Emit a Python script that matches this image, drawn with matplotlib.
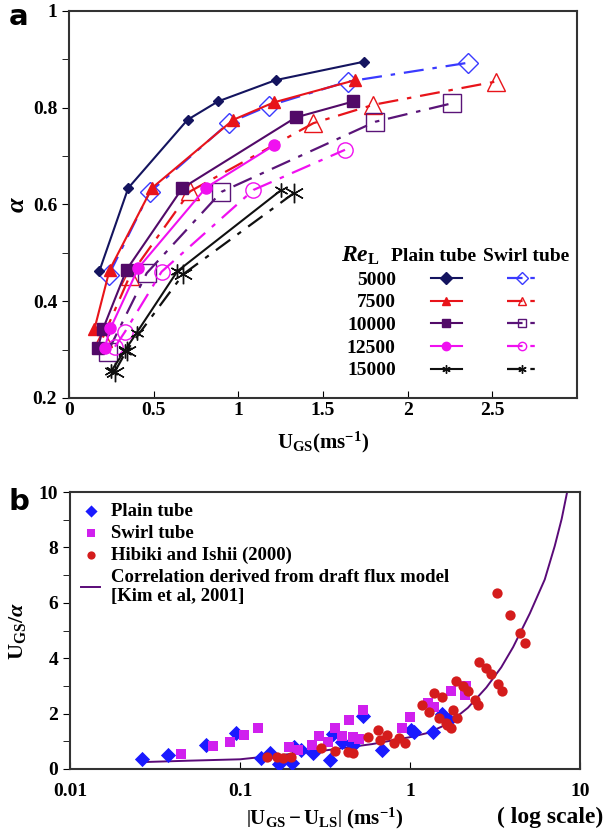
import matplotlib
matplotlib.use('Agg')
import matplotlib.pyplot as plt
from matplotlib.lines import Line2D

plt.rcParams['font.family'] = ['Liberation Serif', 'DejaVu Serif']
plt.rcParams['font.weight'] = 'bold'
plt.rcParams['mathtext.fontset'] = 'custom'
plt.rcParams['mathtext.rm'] = 'Liberation Serif:bold'
plt.rcParams['mathtext.it'] = 'Liberation Serif:italic:bold'
plt.rcParams['mathtext.bf'] = 'Liberation Serif:bold'

# ---- panel a : void fraction vs superficial gas velocity ----
re_labels = ['5000', '7500', '10000', '12500', '15000']

plain_x = [
    [0.18, 0.35, 0.70, 0.88, 1.22, 1.74],
    [0.15, 0.24, 0.49, 0.97, 1.21, 1.69],
    [0.17, 0.20, 0.34, 0.67, 1.34, 1.68],
    [0.21, 0.245, 0.41, 0.81, 1.21],
    [0.25, 0.33, 0.40, 0.64, 1.25],
]
plain_y = [
    [0.463, 0.634, 0.775, 0.813, 0.857, 0.895],
    [0.342, 0.465, 0.634, 0.775, 0.811, 0.857],
    [0.303, 0.342, 0.465, 0.634, 0.780, 0.813],
    [0.303, 0.344, 0.469, 0.635, 0.722],
    [0.256, 0.298, 0.335, 0.462, 0.629],
]
swirl_x = [
    [0.236, 0.476, 0.945, 1.18, 1.646, 2.358],
    [0.20, 0.36, 0.715, 1.443, 1.797, 2.52],
    [0.23, 0.459, 0.90, 1.809, 2.26],
    [0.272, 0.331, 0.547, 1.089, 1.63],
    [0.27, 0.34, 0.675, 1.33],
]
swirl_y = [
    [0.455, 0.625, 0.769, 0.804, 0.854, 0.893],
    [0.325, 0.453, 0.627, 0.768, 0.806, 0.854],
    [0.296, 0.458, 0.626, 0.771, 0.809],
    [0.306, 0.337, 0.461, 0.630, 0.713],
    [0.254, 0.298, 0.456, 0.624],
]

plain_colors = ['#14145f', '#e8141a', '#520a68', '#f010f0', '#101010']
swirl_colors = ['#3a3aff', '#e8141a', '#5a1478', '#f010f0', '#101010']
plain_markers = ['D', '^', 's', 'o', (6, 2, 0)]
plain_ms = [5, 8, 8, 8, 10]
swirl_markers = ['D', '^', 's', 'o', (6, 2, 0)]
swirl_ms = [10, 13, 13, 11, 14]

# ---- panel b : drift flux comparison ----
plain_bx = [0.0266, 0.0376, 0.0627, 0.0946, 0.132, 0.151, 0.169, 0.201, 0.209,
            0.229, 0.27, 0.34, 0.35, 0.40, 0.46, 0.53, 0.686, 1.02, 1.05,
            1.36, 1.55, 1.70]
plain_by = [0.35, 0.51, 0.87, 1.29, 0.39, 0.59, 0.18, 0.20, 0.81, 0.69, 0.59,
            0.33, 1.27, 0.99, 0.87, 1.92, 0.69, 1.41, 1.35, 1.35, 2.0, 1.77]

swirl_bx = [0.0449, 0.0698, 0.087, 0.106, 0.128, 0.195, 0.22, 0.264, 0.29,
            0.33, 0.363, 0.40, 0.437, 0.46, 0.50, 0.53, 0.894, 1.0, 1.27,
            1.39, 1.74, 2.13, 2.10]
swirl_by = [0.54, 0.83, 0.99, 1.23, 1.49, 0.81, 0.69, 0.87, 1.19, 0.99, 1.49,
            1.19, 1.77, 1.17, 1.07, 2.13, 1.47, 1.89, 2.40, 2.25, 2.80, 2.98,
            2.67]

hibiki_x = [0.144, 0.164, 0.18, 0.20, 0.30, 0.36, 0.43, 0.465, 0.569, 0.65,
            0.67, 0.73, 0.80, 0.86, 0.93, 1.17, 1.30, 1.39, 1.48, 1.54, 1.62,
            1.66, 1.74, 1.78, 1.89, 1.86, 2.05, 2.20, 2.40, 2.50, 2.56, 2.81,
            2.98, 3.24, 3.30, 3.46, 3.90, 4.42, 4.74]
hibiki_y = [0.45, 0.45, 0.39, 0.42, 0.75, 0.66, 0.63, 0.57, 1.17, 1.41, 1.05,
            1.23, 0.93, 1.11, 0.95, 2.31, 2.07, 2.73, 1.83, 2.61, 1.65, 1.59,
            1.47, 2.13, 1.83, 3.19, 2.98, 2.80, 2.49, 2.31, 3.88, 3.64, 3.43,
            6.35, 3.07, 2.80, 5.57, 4.90, 4.54]

corr_x = [0.027, 0.05, 0.1, 0.17, 0.3, 0.6, 1.0, 1.27, 1.67, 2.19, 2.81, 3.44,
          4.04, 5.07, 6.2, 7.1, 7.8, 8.4]
corr_y = [0.25, 0.30, 0.35, 0.50, 0.65, 0.90, 1.15, 1.30, 1.63, 2.21, 2.94,
          3.67, 4.40, 5.62, 6.84, 8.05, 9.03, 10.0]

fig = plt.figure(figsize=(6.04, 8.30), dpi=100)
ax1 = fig.add_axes([0.1142, 0.5205, 0.8411, 0.4663])
ax2 = fig.add_axes([0.1159, 0.0735, 0.8444, 0.3337])

swirl_dash = (0, (9, 4, 2, 4))
plain_h, swirl_h = [], []
for i in range(5):
    ax1.plot(plain_x[i], plain_y[i], color=plain_colors[i], lw=1.5,
             marker=plain_markers[i], ms=plain_ms[i],
             markerfacecolor=plain_colors[i], markeredgecolor=plain_colors[i], zorder=3)
    ax1.plot(swirl_x[i], swirl_y[i], color=swirl_colors[i], lw=1.6,
             linestyle=swirl_dash if i < 4 else (0, (8, 4, 2, 4)),
             marker=swirl_markers[i], ms=swirl_ms[i], markerfacecolor='none',
             markeredgecolor=swirl_colors[i], markeredgewidth=1.0, zorder=2)
    plain_h.append(Line2D([], [], color=plain_colors[i], lw=1.5, marker=plain_markers[i],
                          ms=6, markerfacecolor=plain_colors[i], markeredgecolor=plain_colors[i]))
    swirl_h.append(Line2D([], [], color=swirl_colors[i], lw=1.6, linestyle=(0, (7, 3.5, 2, 3.5)),
                          marker=swirl_markers[i], ms=6, markerfacecolor='none',
                          markeredgecolor=swirl_colors[i]))

ax1.set_xlim(0, 3)
ax1.set_ylim(0.2, 1.0)
ax1.set_xticks([0, 0.5, 1, 1.5, 2, 2.5])
ax1.set_xticklabels(['0', '0.5', '1', '1.5', '2', '2.5'])
ax1.set_yticks([0.2, 0.4, 0.6, 0.8, 1.0])
ax1.set_yticklabels(['0.2', '0.4', '0.6', '0.8', '1'])
ax1.set_yticks([0.3, 0.5, 0.7, 0.9], minor=True)
ax1.tick_params(axis='x', direction='in', length=5, labelsize=14, pad=3)
ax1.tick_params(axis='y', direction='out', length=5, labelsize=14)
ax1.tick_params(axis='y', which='minor', direction='out', length=5)
ax1.set_xlabel(r'$\mathrm{U_{GS}(ms^{-1})}$', fontsize=15, labelpad=8)
ax1.set_ylabel('α', fontsize=19, fontstyle='italic', fontweight='bold', labelpad=3)

leg = ax1.legend(plain_h + swirl_h, re_labels + [''] * 5, ncol=2, markerfirst=False,
                 loc='upper left', bbox_to_anchor=(0.528, 0.353), frameon=False,
                 fontsize=14, handlelength=1.6, handletextpad=1.8, columnspacing=0.5,
                 labelspacing=0.26, borderpad=0)
for t in leg.get_texts():
    t.set_ha('right')
ax1.text(0.573, 0.366, r'$\mathit{Re}_\mathrm{L}$', transform=ax1.transAxes,
         fontsize=17, ha='center', va='center')
ax1.text(0.717, 0.366, 'Plain tube', transform=ax1.transAxes, fontsize=14,
         ha='center', va='center')
ax1.text(0.90, 0.366, 'Swirl tube', transform=ax1.transAxes, fontsize=14,
         ha='center', va='center')

# panel b
ax2.plot(corr_x, corr_y, color='#5a0a78', lw=1.4, zorder=2,
         label='Correlation derived from draft flux model\n[Kim et al, 2001]')
ax2.scatter(plain_bx, plain_by, marker='D', s=60, color='#1a1aff', zorder=3,
            label='Plain tube', linewidths=0)
ax2.scatter(swirl_bx, swirl_by, marker='s', s=60, color='#d020ee', zorder=3,
            label='Swirl tube', linewidths=0)
ax2.scatter(hibiki_x, hibiki_y, marker='o', s=55, color='#d41c1c', zorder=4,
            label='Hibiki and Ishii (2000)', linewidths=0)

ax2.set_xscale('log')
ax2.set_xlim(0.01, 10)
ax2.set_ylim(0, 10)
ax2.set_xticks([0.01, 0.1, 1, 10])
ax2.set_xticklabels(['0.01', '0.1', '1', '10'])
ax2.xaxis.set_minor_locator(matplotlib.ticker.NullLocator())
ax2.set_yticks([0, 2, 4, 6, 8, 10])
ax2.set_yticks([1, 3, 5, 7, 9], minor=True)
ax2.tick_params(axis='x', direction='in', length=5, labelsize=14, pad=10)
ax2.tick_params(axis='y', direction='out', length=5, labelsize=14)
ax2.tick_params(axis='y', which='minor', direction='out', length=5)
ax2.set_xlabel(r'$\left|\mathrm{U_{GS}-U_{LS}}\right|\ \mathrm{(ms^{-1})}$', fontsize=15, labelpad=4)
ax2.set_ylabel(r'$\mathrm{U_{GS}}/\mathit{\alpha}$', fontsize=16, labelpad=8)

h, l = ax2.get_legend_handles_labels()
order = [1, 2, 3, 0]
ax2.legend([h[k] for k in order], [l[k] for k in order], loc='upper left',
           frameon=False, fontsize=13.5, handlelength=1.0, handletextpad=0.6,
           labelspacing=0.25, borderpad=0.3, borderaxespad=0.3, markerscale=0.8)

for ax in (ax1, ax2):
    for s in ax.spines.values():
        s.set_linewidth(1.5)
        s.set_color('#333333')

fig.text(0.014, 0.970, 'a', fontsize=21, fontweight='bold', family='DejaVu Sans', va='baseline')
fig.text(0.014, 0.3855, 'b', fontsize=21, fontweight='bold', family='DejaVu Sans', va='baseline')
fig.text(0.998, 0.0157, '( log scale)', fontsize=17, fontweight='bold', ha='right', va='center')

fig.savefig('out.png', dpi=100)
